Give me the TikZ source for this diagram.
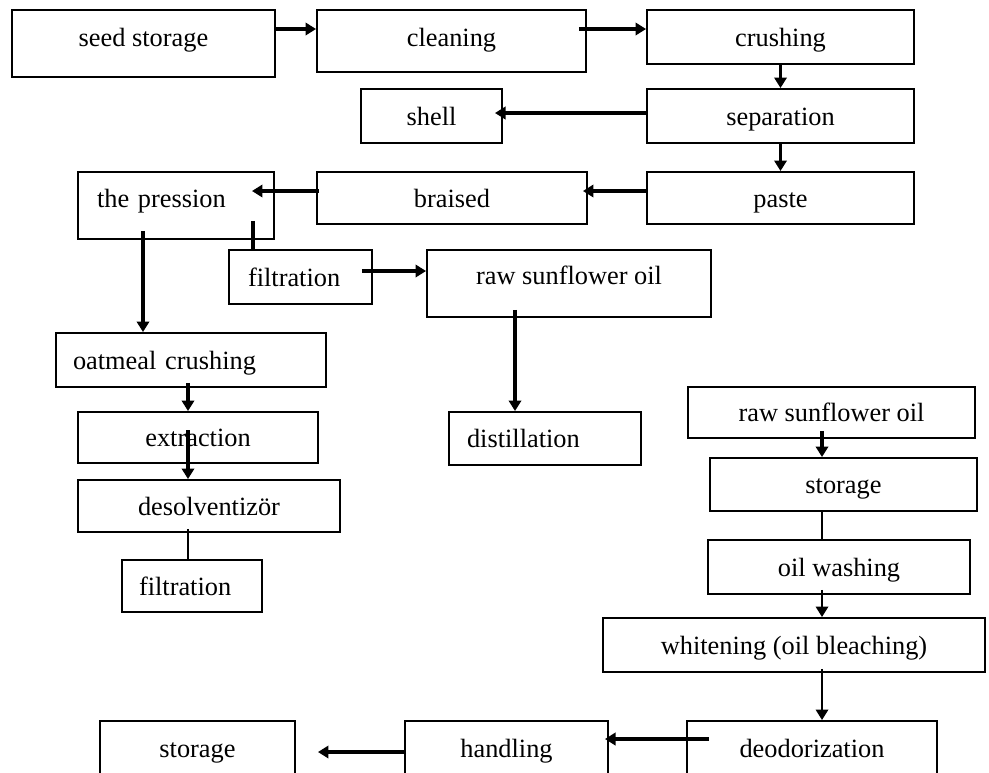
\documentclass[tikz,border=0pt]{standalone}
\usepackage{fontspec}
\setmainfont{Liberation Serif}
\usetikzlibrary{arrows.meta, positioning, calc}
\newcommand{\liftlabel}[2]{\raisebox{#1}[\height][\depth]{#2}}

\begin{document}
\begin{tikzpicture}[
      x=0.02cm, y=-0.02cm,
      procbox/.style={draw, line width=1.1pt, inner sep=0pt, fill=white,
        text height=11pt, text depth=0.6pt, font=\fontsize{15}{18}\selectfont},
      leftbox/.style={procbox, align=left},
      flow/.style={->, line width=2pt},
      thinflow/.style={->, line width=1.4pt},
      >={Triangle[length=6pt,width=7pt]}
    ]
      \useasboundingbox (0,0) rectangle (989,772);
      \node[procbox, minimum width=5.26cm, minimum height=1.34cm] (seed) at (143.5,43.5) {\liftlabel{0.13cm}{seed storage}};
      \node[procbox, minimum width=5.38cm, minimum height=1.24cm] (cleaning) at (451.5,41) {\liftlabel{0.08cm}{cleaning}};
      \node[procbox, minimum width=5.34cm, minimum height=1.08cm] (crushing) at (780.5,37) {crushing};
      \node[procbox, minimum width=2.82cm, minimum height=1.08cm] (shell) at (431.5,116) {shell};
      \node[procbox, minimum width=5.34cm, minimum height=1.08cm] (separation) at (780.5,116) {separation};
      \node[procbox, minimum width=5.34cm, minimum height=1.04cm] (paste) at (780.5,198) {paste};
      \node[procbox, minimum width=5.4cm, minimum height=1.04cm] (braised) at (452,198) {braised};
      \node[leftbox, text width=3.16cm, inner xsep=0.38cm, minimum height=1.34cm] (pression) at (176,205.5) {\liftlabel{0.15cm}{the pression}};
      \node[leftbox, text width=2.1cm, inner xsep=0.38cm, minimum height=1.08cm] (filtrA) at (300.5,277) {filtration};
      \node[procbox, minimum width=5.68cm, minimum height=1.34cm] (rawoilA) at (569,283.5) {\liftlabel{0.17cm}{raw sunflower oil}};
      \node[leftbox, text width=4.72cm, inner xsep=0.34cm, minimum height=1.08cm] (oatmeal) at (191,360) {oatmeal crushing};
      \node[procbox, minimum width=4.8cm, minimum height=1.02cm] (extraction) at (198,437.5) {extraction};
      \node[procbox, minimum width=5.24cm, minimum height=1.04cm] (desolv) at (209,506) {desolventizör};
      \node[leftbox, text width=2.12cm, inner xsep=0.34cm, minimum height=1.04cm] (filtrB) at (192,586) {filtration};
      \node[leftbox, text width=3.12cm, inner xsep=0.36cm, minimum height=1.06cm] (distill) at (545,438.5) {distillation};
      \node[procbox, minimum width=5.74cm, minimum height=1.02cm] (rawoilB) at (831.5,412.5) {raw sunflower oil};
      \node[procbox, minimum width=5.34cm, minimum height=1.06cm] (storageA) at (843.5,484.5) {storage};
      \node[procbox, minimum width=5.24cm, minimum height=1.08cm] (washing) at (839,567) {oil washing};
      \node[procbox, minimum width=7.64cm, minimum height=1.08cm] (bleaching) at (794,645) {whitening (oil bleaching)};
      \node[procbox, minimum width=5.0cm, minimum height=1.16cm] (deodor) at (812,750) {\liftlabel{0.04cm}{deodorization}};
      \node[procbox, minimum width=4.06cm, minimum height=1.16cm] (handling) at (506.5,750) {\liftlabel{0.04cm}{handling}};
      \node[procbox, minimum width=3.9cm, minimum height=1.16cm] (storageB) at (197.5,750) {\liftlabel{0.04cm}{storage}};
      \draw[flow] ($(seed.east)+(0,-14.5)$) -- ($(cleaning.west)+(0,-12)$);
      \draw[flow] ($(cleaning.east)+(-8,-12)$) -- ($(crushing.west)+(0,-8)$);
      \draw[flow] (crushing) -- (separation);
      \draw[flow] ($(separation.west)+(0,-3)$) -- ($(shell.east)+(-8,-3)$);
      \draw[flow] (separation) -- (paste);
      \draw[flow] ($(paste.west)+(0,-7)$) -- ($(braised.east)+(-5,-7)$);
      \draw[flow] ($(braised.west)+(3,-7)$) -- ($(pression.east)+(-23,-14.5)$);
      \draw[line width=2pt] ($(pression.south)+(77,-19)$) -- ($(filtrA.north)+(-47.5,0)$);
      \draw[flow] ($(filtrA.east)+(-11,-6)$) -- ($(rawoilA.west)+(0,-12.5)$);
      \draw[flow] ($(pression.south)+(-33,-9)$) -- ($(oatmeal.north)+(-48,0)$);
      \draw[flow] ($(oatmeal.south)+(-3,-5)$) -- ($(extraction.north)+(-10,0)$);
      \draw[flow] ($(extraction.center)+(-10,-7.5)$) -- ($(desolv.north)+(-21,0)$);
      \draw[line width=1.6pt] ($(desolv.south)+(-21,-4)$) -- ($(filtrB.north)+(-4,0)$);
      \draw[flow] ($(rawoilA.south)+(-54,-8)$) -- ($(distill.north)+(-30,0)$);
      \draw[flow] ($(rawoilB.south)+(-9.5,-8)$) -- ($(storageA.north)+(-21.5,0)$);
      \draw[line width=1.4pt] ($(storageA.south)+(-21.5,0)$) -- ($(washing.north)+(-17,0)$);
      \draw[thinflow] ($(washing.south)+(-17,-5)$) -- ($(bleaching.north)+(28,0)$);
      \draw[thinflow] ($(bleaching.south)+(28,-4)$) -- ($(deodor.north)+(10,0)$);
      \draw[flow] ($(deodor.west)+(23,-11)$) -- ($(handling.east)+(-4,-11)$);
      \draw[flow] ($(handling.west)+(2,2)$) -- ($(storageB.east)+(22,2)$);
    \end{tikzpicture}
\end{document}
